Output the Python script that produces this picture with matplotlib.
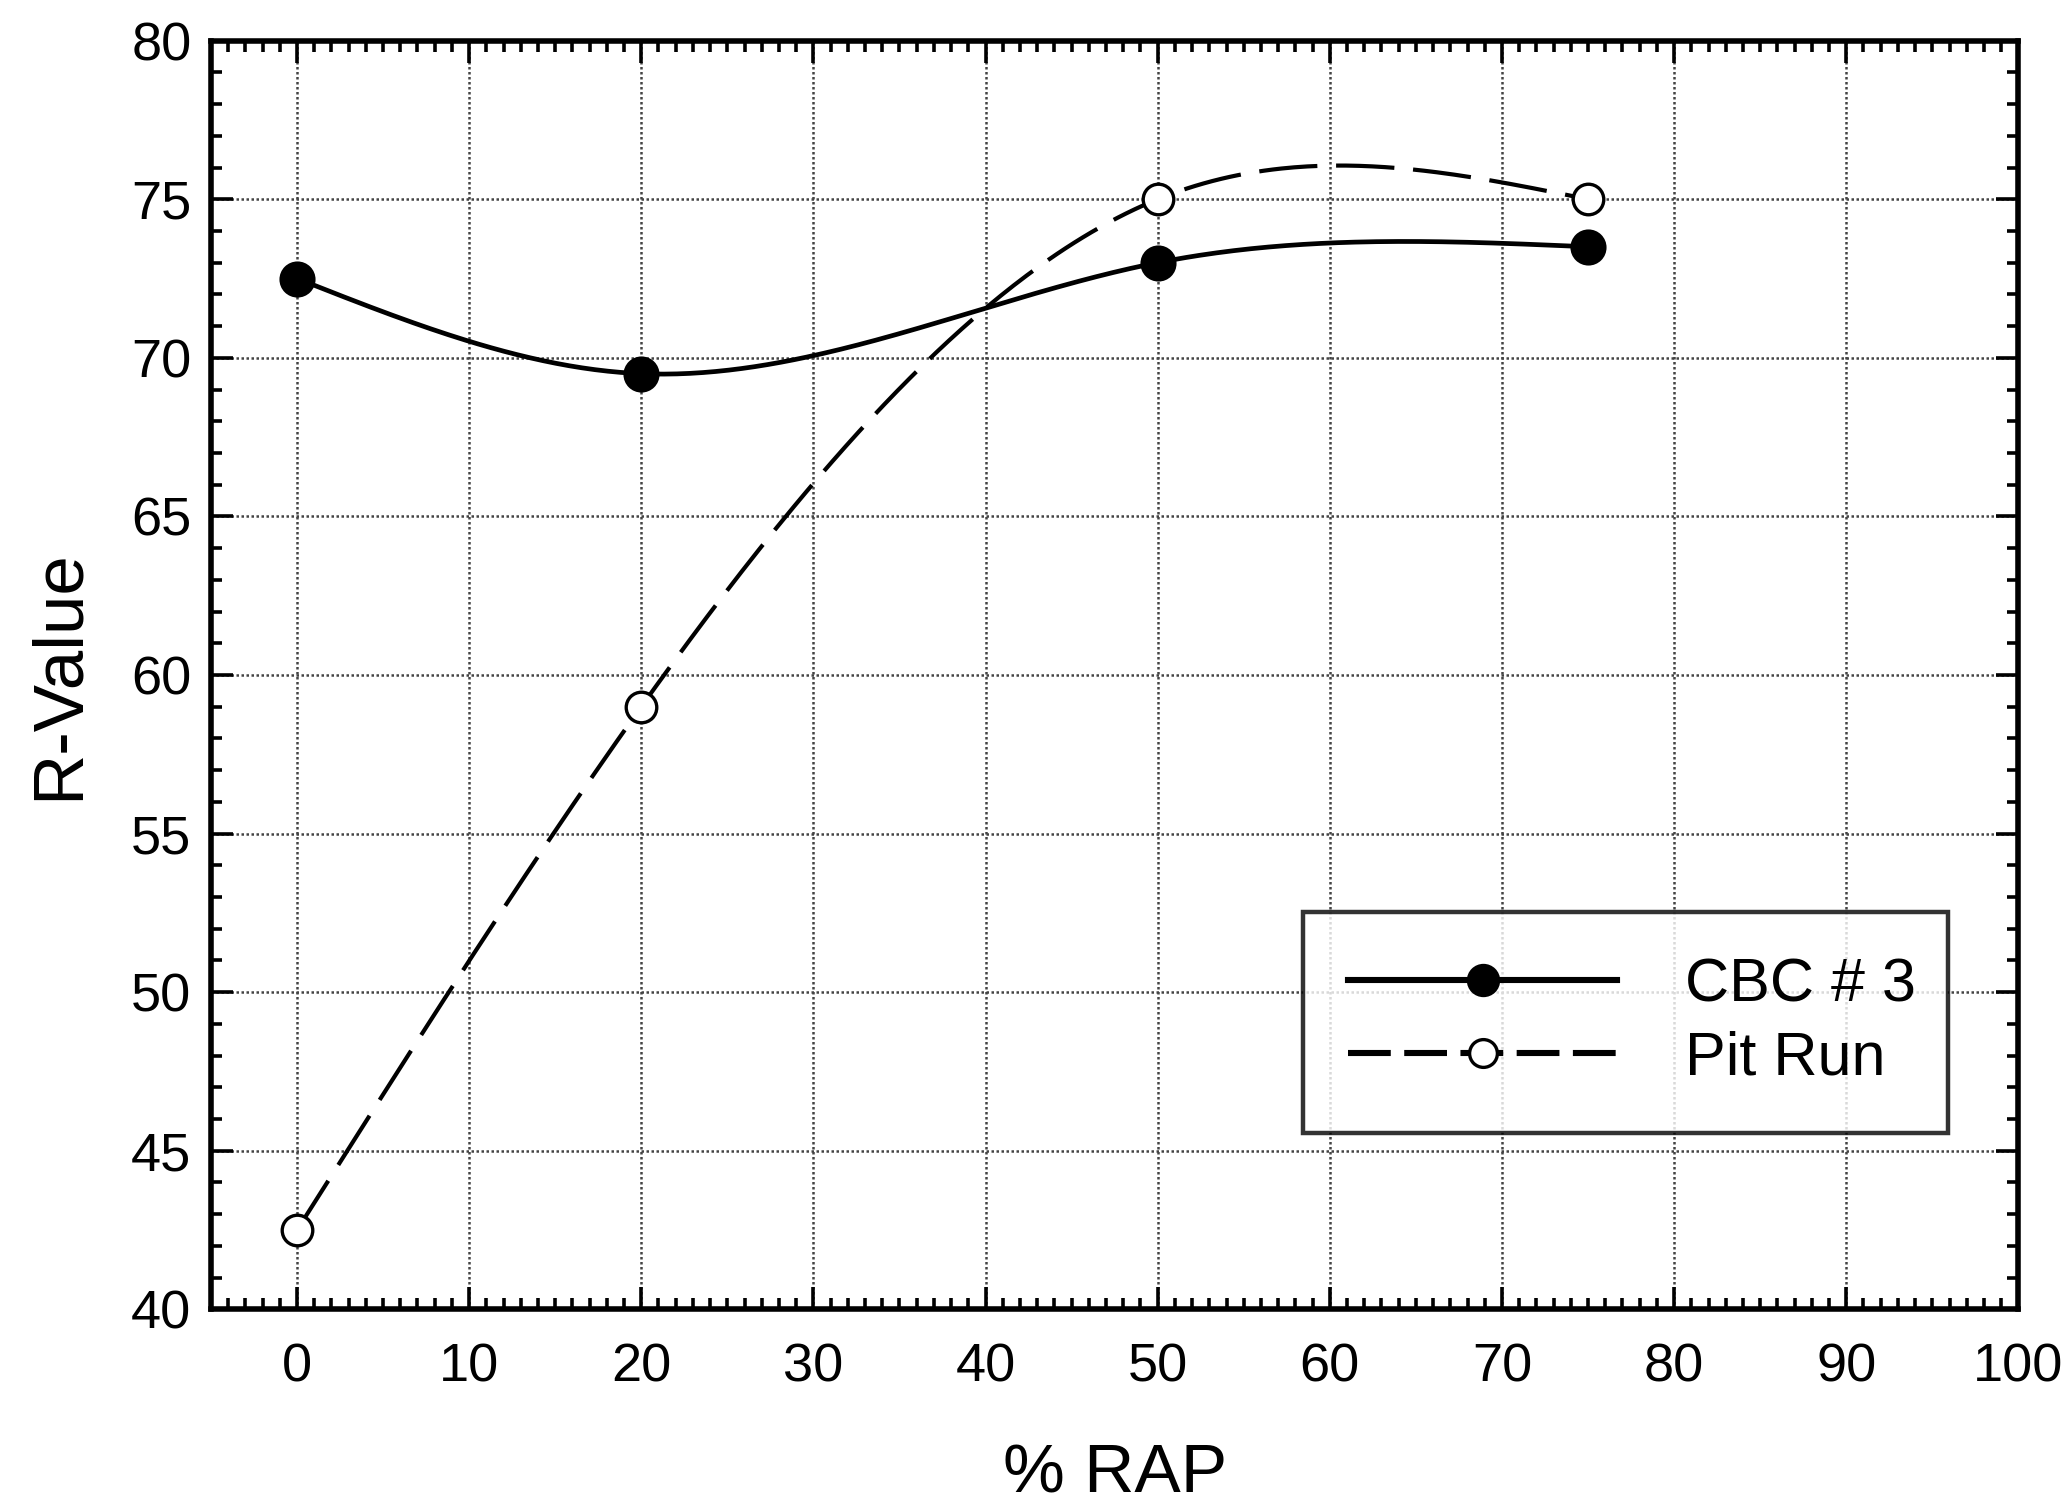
import numpy as np
import matplotlib
matplotlib.use("Agg")
import matplotlib.pyplot as plt
from matplotlib.ticker import MultipleLocator

rap = [0, 20, 50, 75]
cbc3 = [72.5, 69.5, 73.0, 73.5]
pit_run = [42.5, 59.0, 75.0, 75.0]
xticks = [0, 10, 20, 30, 40, 50, 60, 70, 80, 90, 100]
yticks = [40, 45, 50, 55, 60, 65, 70, 75, 80]


def natural_spline(x, y, n=300):
    x = np.asarray(x, float)
    y = np.asarray(y, float)
    k = len(x)
    h = np.diff(x)
    A = np.zeros((k, k))
    b = np.zeros(k)
    A[0, 0] = 1
    A[-1, -1] = 1
    for i in range(1, k - 1):
        A[i, i - 1] = h[i - 1]
        A[i, i] = 2 * (h[i - 1] + h[i])
        A[i, i + 1] = h[i]
        b[i] = 6 * ((y[i + 1] - y[i]) / h[i] - (y[i] - y[i - 1]) / h[i - 1])
    M = np.linalg.solve(A, b)
    xs = np.linspace(x[0], x[-1], n)
    ys = np.empty_like(xs)
    for j, t in enumerate(xs):
        i = min(np.searchsorted(x, t, side="right") - 1, k - 2)
        a = x[i + 1] - t
        c = t - x[i]
        ys[j] = (M[i] * a**3 + M[i + 1] * c**3) / (6 * h[i]) \
            + (y[i] / h[i] - M[i] * h[i] / 6) * a \
            + (y[i + 1] / h[i] - M[i + 1] * h[i] / 6) * c
    return xs, ys


plt.rcParams["font.family"] = ["Liberation Sans", "DejaVu Sans"]

fig = plt.figure(figsize=(10.34, 7.525), dpi=200)
ax = fig.add_axes([0.102, 0.130, 0.874, 0.843])

xs, ys = natural_spline(rap, cbc3)
ax.plot(xs, ys, color="black", lw=1.7, zorder=3)
xs2, ys2 = natural_spline(rap, pit_run)
ax.plot(xs2, ys2, color="black", lw=1.5, dashes=(14, 4.5), zorder=3)

ax.plot(rap, cbc3, "o", color="black", ms=12, zorder=4)
ax.plot(rap, pit_run, "o", mfc="white", mec="black", mew=1.2, ms=11, zorder=4)

# legend proxies
h1, = ax.plot([], [], color="black", lw=2.2, marker="o", ms=11, label="CBC # 3")
h2, = ax.plot([], [], color="black", lw=2.2, dashes=(7, 2.2), marker="o",
              mfc="white", mec="black", mew=1.2, ms=10, label="Pit Run")
leg = ax.legend(handles=[h1, h2], loc="lower left",
                bbox_to_anchor=(0.604, 0.139, 0.357, 0.169), mode="expand",
                numpoints=1, handlelength=4.4, handletextpad=1.1,
                fontsize=22, frameon=True, fancybox=False, borderpad=0.75,
                labelspacing=0.25, borderaxespad=0)
leg.get_frame().set_edgecolor("black")
leg.get_frame().set_linewidth(1.6)
leg.set_zorder(5)

ax.set_xlim(-5, 100)
ax.set_ylim(40, 80)
ax.set_xticks(xticks)
ax.set_yticks(yticks)
ax.xaxis.set_minor_locator(MultipleLocator(1))
ax.yaxis.set_minor_locator(MultipleLocator(1))
ax.tick_params(which="both", direction="in", top=True, right=True, width=1.3)
ax.tick_params(which="major", length=8, labelsize=19.5)
ax.tick_params(axis="x", which="major", pad=12)
ax.tick_params(axis="y", which="major", pad=7)
ax.tick_params(which="minor", length=4)
ax.grid(True, which="major", color="#444444", linestyle=(0, (1, 1)), lw=0.9)
ax.set_axisbelow(True)
for s in ax.spines.values():
    s.set_linewidth(2.0)

ax.set_xlabel("% RAP", fontsize=25, labelpad=18)
ax.set_ylabel("R-Value", fontsize=25.5, labelpad=14)

fig.savefig("out.png", dpi=200, facecolor="white")
